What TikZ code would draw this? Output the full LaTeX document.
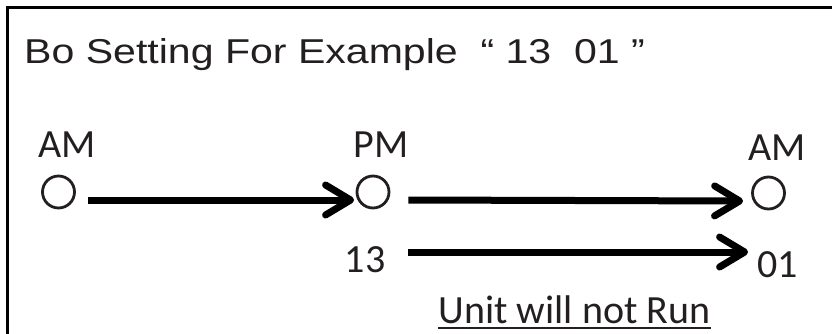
\documentclass[tikz,border=0pt]{standalone}
\usepackage{fontspec}
\setmainfont{Carlito}
\newfontfamily\titlefont{Liberation Sans}
\usetikzlibrary{arrows.meta,calc}
\definecolor{ink}{HTML}{231F20}
\tikzset{
  lbl/.style={inner sep=0pt, anchor=base, text=ink, font=\fontsize{40}{40}\selectfont},
  dot/.style={circle, draw=ink, line width=2.8pt, minimum size=32pt, inner sep=0pt},
  arr/.style={line width=7pt, -{Straight Barb[length=25pt, width=30pt, line cap=round, line join=round]}},
  frame/.style={line width=2.4pt}
}
\begin{document}
\begin{tikzpicture}[x=1pt,y=1pt]
\useasboundingbox (0,0) rectangle (832,333);
\draw[frame] (832,325.5) -- (7.5,325.5) -- (7.5,-2);
\node[inner sep=0pt, anchor=base west, text=ink, font=\titlefont\fontsize{34.5}{34.5}\selectfont, xscale=1.19] (title) at (24,270) {Bo Setting For Example \ “ 13 \ 01 ”};
\node[lbl] (am1) at (67.5,176) {AM};
\node[lbl] (pm) at (381,176) {PM};
\node[lbl] (am2) at (777.5,173) {AM};
\node[dot] (c1) at (58.5,141) {};
\node[dot] (c2) at (373,141) {};
\node[dot] (c3) at (768.5,140) {};
\node[lbl] (n13) at (365,61) {13};
\node[lbl] (n01) at (777.5,56) {01};
\node[lbl] (unit) at (574.5,10) {Unit will not Run};
\draw[line width=2.6pt, ink] ($(unit.base west)+(0,-5)$) -- ($(unit.base east)+(0,-5)$);
\draw[arr] ($(c1.east)+(12,-8)$) -- ($(c2.west)+(-1.5,-8)$);
\draw[arr] ($(c2.east)+(18,-8)$) -- ($(c3.west)+(-8,-8)$);
\coordinate (s3) at ($(c2.east)+(18,0)$);
\coordinate (e3) at ($(c3.west)+(-3,0)$);
\draw[arr] (s3 |- 0,81) -- (e3 |- 0,81);
\end{tikzpicture}
\end{document}
